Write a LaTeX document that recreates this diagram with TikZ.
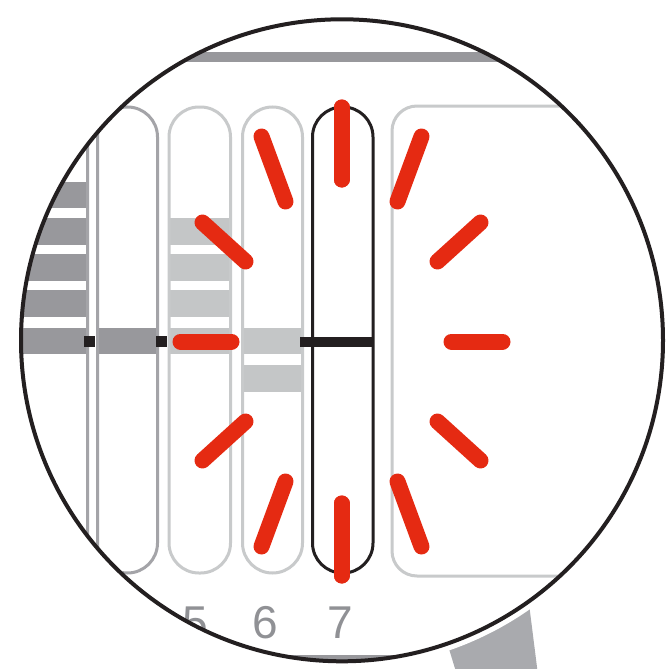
\documentclass[tikz,border=0pt]{standalone}
\usepackage{fontspec}
\setmainfont{Liberation Sans}
\definecolor{darkband}{HTML}{98989C}
\definecolor{lightband}{HTML}{C4C6C7}
\definecolor{midborder}{HTML}{A4A4A8}
\definecolor{lightborder}{HTML}{C8CACB}
\definecolor{inkblack}{HTML}{231F20}
\definecolor{handlegray}{HTML}{A9AAAE}
\definecolor{labelgray}{HTML}{909195}
\definecolor{burstred}{HTML}{E52A12}
\begin{document}
\begin{tikzpicture}[x=1pt,y=-1pt,
  colbox/.style={line width=3pt,rounded corners=30pt},
  burst/.style={burstred,line width=16pt,line cap=round},
  numlabel/.style={text=labelgray,font=\fontsize{46}{50}\selectfont,inner sep=0pt}]
\useasboundingbox (0,0) rectangle (667,669);
% magnifier handle
\fill[handlegray] (434,600) -- (526,580) -- (538,675) -- (457,675) -- cycle;
% lens background with white gap
\fill[white] (342,340.3) circle (328);
\begin{scope}
\clip (342,340.3) circle (321);
% top and bottom bars
\fill[darkband] (185,52) rectangle (700,62);
\fill[darkband] (0,655) rectangle (700,665);
% leftmost column bands
\foreach \t/\b in {182/208,218/245,254/281,290/317,328/354}
  \fill[darkband] (-60,\t) rectangle (87,\b);
\draw[colbox,midborder] (-60,107) rectangle (87.5,573);
% column 4
\fill[darkband] (97,328) rectangle (157,354);
\draw[colbox,midborder] (97.5,107) rectangle (157.5,573);
% column 5
\foreach \t/\b in {218/245,254/281,290/317,328/354}
  \fill[lightband] (169,\t) rectangle (230,\b);
\draw[colbox,lightborder] (169,107) rectangle (230.5,573);
% column 6
\foreach \t/\b in {328/354,365/392}
  \fill[lightband] (242,\t) rectangle (302,\b);
\draw[colbox,lightborder] (242.5,107) rectangle (302.5,573);
% column 7
\draw[colbox,inkblack] (312.5,107) rectangle (373,573);
\fill[inkblack] (300,337) rectangle (373,347);
% big right box
\draw[lightborder,line width=3pt,rounded corners=25pt] (392,106) rectangle (760,576);
% centromere markers
\fill[inkblack] (84,336) rectangle (95,347);
\fill[inkblack] (156,336) rectangle (167,347);
% labels
\node[numlabel] (l5) at (195,623) {5};
\node[numlabel] (l6) at (265,623) {6};
\node[numlabel] (l7) at (340,623) {7};
% red burst
\begin{scope}[shift={(341.5,341.5)}]
\foreach \sx in {1,-1}{
  \foreach \a/\b/\c/\d in {0/-162/0/-234,56/-140/80/-205,96/-80/139/-119,110/0/161/0,96/80/139/119,56/140/80/205,0/162/0/234}
    \draw[burst] (\sx*\a,\b) -- (\sx*\c,\d);
}
\end{scope}
\end{scope}
% lens rim
\draw[inkblack,line width=4pt] (342,340.3) circle (321);
\end{tikzpicture}
\end{document}
